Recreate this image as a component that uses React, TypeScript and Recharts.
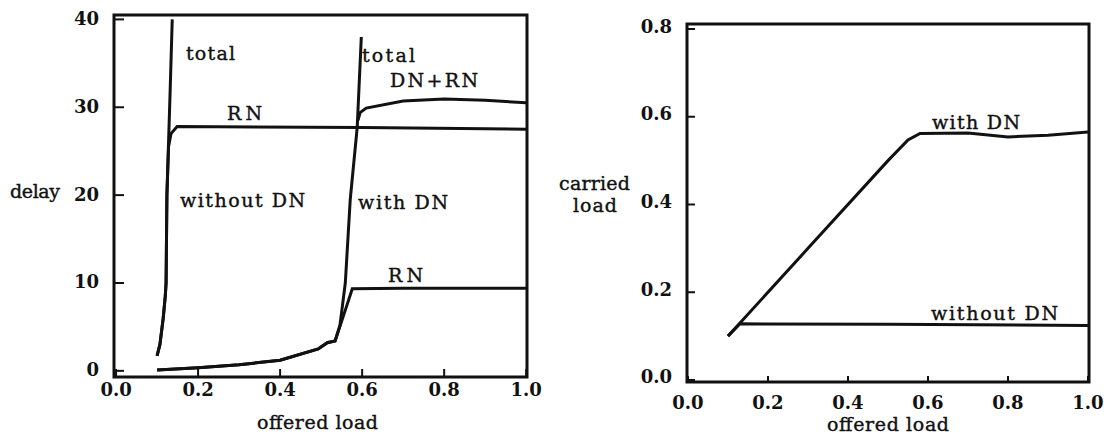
import React from "react";
import { LineChart, Line, XAxis, YAxis, ReferenceArea } from "recharts";

// left panel: delay vs offered load
const noDnTotal = [
  { x: 0.1, v: 1.7 }, { x: 0.107, v: 3 }, { x: 0.115, v: 6 }, { x: 0.12, v: 8.5 },
  { x: 0.122, v: 10 }, { x: 0.124, v: 20 }, { x: 0.128, v: 26 }, { x: 0.132, v: 32 },
  { x: 0.137, v: 40 },
];
const noDnRN = [
  { x: 0.1, v: 1.7 }, { x: 0.107, v: 3 }, { x: 0.115, v: 6 }, { x: 0.12, v: 8.5 },
  { x: 0.122, v: 10 }, { x: 0.124, v: 20 }, { x: 0.128, v: 25.5 }, { x: 0.134, v: 27 },
  { x: 0.149, v: 27.8 }, { x: 0.6, v: 27.7 }, { x: 1.0, v: 27.5 },
];
const dnTotal = [
  { x: 0.1, v: 0.1 }, { x: 0.2, v: 0.35 }, { x: 0.3, v: 0.7 }, { x: 0.4, v: 1.2 },
  { x: 0.493, v: 2.5 }, { x: 0.515, v: 3.2 }, { x: 0.534, v: 3.4 }, { x: 0.546, v: 5.2 },
  { x: 0.559, v: 10 }, { x: 0.571, v: 19.5 }, { x: 0.588, v: 27.7 }, { x: 0.598, v: 38 },
];
const dnRN = [
  { x: 0.1, v: 0.1 }, { x: 0.2, v: 0.35 }, { x: 0.3, v: 0.7 }, { x: 0.4, v: 1.2 },
  { x: 0.493, v: 2.5 }, { x: 0.515, v: 3.2 }, { x: 0.534, v: 3.4 }, { x: 0.554, v: 6.2 },
  { x: 0.576, v: 9.35 }, { x: 0.7, v: 9.4 }, { x: 1.0, v: 9.4 },
];
const dnBoth = [
  { x: 0.59, v: 28.5 }, { x: 0.595, v: 29.4 }, { x: 0.61, v: 29.9 }, { x: 0.7, v: 30.7 },
  { x: 0.8, v: 30.95 }, { x: 0.9, v: 30.8 }, { x: 1.0, v: 30.5 },
];

// right panel: carried load vs offered load
const carriedDn = [
  { x: 0.1, v: 0.1 }, { x: 0.13, v: 0.13 }, { x: 0.3, v: 0.3 }, { x: 0.5, v: 0.5 },
  { x: 0.55, v: 0.547 }, { x: 0.58, v: 0.562 }, { x: 0.7, v: 0.563 }, { x: 0.8, v: 0.554 },
  { x: 0.9, v: 0.558 }, { x: 1.0, v: 0.565 },
];
const carriedNoDn = [
  { x: 0.1, v: 0.1 }, { x: 0.13, v: 0.128 }, { x: 0.5, v: 0.127 }, { x: 1.0, v: 0.124 },
];

const loadTicks = [0, 0.2, 0.4, 0.6, 0.8, 1.0];
const delayTicks = [0, 10, 20, 30, 40];
const carriedTicks = [0, 0.2, 0.4, 0.6, 0.8];

const INK = "#111";
const SERIF = "'DejaVu Serif', serif";

const XTick = (p: any) => {
  const { x, y, payload, len, gap } = p;
  return (
    <g>
      <line x1={x} x2={x} y1={y} y2={y - len} stroke={INK} strokeWidth={2} />
      <text x={x} y={y + gap} textAnchor="middle" dominantBaseline="central"
        fontFamily={SERIF} fontWeight="bold" fontSize={18} fill={INK}>
        {payload.value.toFixed(1)}
      </text>
    </g>
  );
};

const YTick = (p: any) => {
  const { x, y, payload, len, digits, dy } = p;
  return (
    <g>
      <line x1={x} x2={x + len} y1={y} y2={y} stroke={INK} strokeWidth={2} />
      <text x={x - 15} y={y + dy} textAnchor="end" dominantBaseline="central"
        fontFamily={SERIF} fontWeight="bold" fontSize={18} fill={INK}>
        {payload.value.toFixed(digits)}
      </text>
    </g>
  );
};

const labels = [
  { t: "total", x: 186, y: 53, w: 49 },
  { t: "RN", x: 227, y: 113, w: 35 },
  { t: "without DN", x: 180, y: 200, w: 125 },
  { t: "delay", x: 10, y: 191, w: 50 },
  { t: "total", x: 362, y: 55, w: 53 },
  { t: "DN+RN", x: 390, y: 80, w: 88 },
  { t: "with DN", x: 358, y: 202, w: 90 },
  { t: "RN", x: 388, y: 275, w: 35 },
  { t: "offered load", x: 257, y: 422, w: 121 },
  { t: "carried", x: 559, y: 183, w: 71 },
  { t: "load", x: 573, y: 205, w: 44 },
  { t: "with DN", x: 932, y: 122, w: 88 },
  { t: "without DN", x: 931, y: 313, w: 127 },
  { t: "offered load", x: 827, y: 424, w: 122 },
];

const line = (data: any[], key: string) => (
  <Line key={key} data={data} dataKey="v" type="linear" stroke={INK} strokeWidth={3}
    dot={false} isAnimationActive={false} />
);

export default function App() {
  const lx: [number, number] = [-0.005, 1.002];
  const ly: [number, number] = [-0.7, 40.5];
  const rx: [number, number] = [-0.0025, 1.0025];
  const ry: [number, number] = [-0.0046, 0.8114];
  return (
    <div style={{ position: "absolute", left: 0, top: 0, width: 1104, height: 435, background: "#fff" }}>
      <div style={{ position: "absolute", left: 0, top: 0 }}>
        <LineChart width={550} height={435} margin={{ top: 15, right: 23, left: 74, bottom: 28 }}>
          <XAxis type="number" dataKey="x" domain={lx} ticks={loadTicks} allowDataOverflow
            axisLine={false} tickLine={false} tickSize={0} tickMargin={0} height={30} interval={0}
            tick={<XTick len={8} gap={12} />} />
          <YAxis type="number" domain={ly} ticks={delayTicks} allowDataOverflow
            axisLine={false} tickLine={false} tickSize={0} tickMargin={0} width={40} interval={0}
            tick={<YTick len={10} digits={0} dy={-1} />} />
          <ReferenceArea x1={lx[0]} x2={lx[1]} y1={ly[0]} y2={ly[1]} fill="none"
            stroke={INK} strokeWidth={3} ifOverflow="visible" />
          {line(noDnTotal, "a")}
          {line(noDnRN, "b")}
          {line(dnTotal, "c")}
          {line(dnRN, "d")}
          {line(dnBoth, "e")}
        </LineChart>
      </div>
      <div style={{ position: "absolute", left: 554, top: 0 }}>
        <LineChart width={550} height={435} margin={{ top: 24, right: 15, left: 93, bottom: 23 }}>
          <XAxis type="number" dataKey="x" domain={rx} ticks={loadTicks} allowDataOverflow
            axisLine={false} tickLine={false} tickSize={0} tickMargin={0} height={30} interval={0}
            tick={<XTick len={6} gap={20} />} />
          <YAxis type="number" domain={ry} ticks={carriedTicks} allowDataOverflow
            axisLine={false} tickLine={false} tickSize={0} tickMargin={0} width={40} interval={0}
            tick={<YTick len={8} digits={1} dy={-3} />} />
          <ReferenceArea x1={rx[0]} x2={rx[1]} y1={ry[0]} y2={ry[1]} fill="none"
            stroke={INK} strokeWidth={3} ifOverflow="visible" />
          {line(carriedDn, "f")}
          {line(carriedNoDn, "g")}
        </LineChart>
      </div>
      <svg width={1104} height={435} style={{ position: "absolute", left: 0, top: 0, pointerEvents: "none" }}>
        {labels.map((l, i) => (
          <text key={i} x={l.x} y={l.y} dominantBaseline="central" fontFamily={SERIF}
            fontSize={19} fill={INK} stroke={INK} strokeWidth={0.4}
            textLength={l.w} lengthAdjust="spacing">
            {l.t}
          </text>
        ))}
      </svg>
    </div>
  );
}
